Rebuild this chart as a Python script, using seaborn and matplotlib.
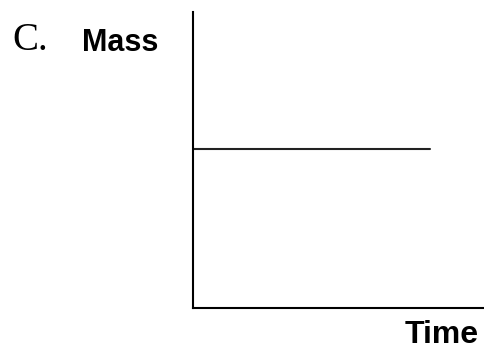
import seaborn as sns
import matplotlib.pyplot as plt

time = [0, 8.1]
mass = [5.37, 5.37]

sns.set_style("white")

fig = plt.figure(figsize=(4.85, 3.49), dpi=100)
ax = fig.add_axes([193 / 485, 41 / 349, 1 - 193 / 485, 296 / 349])

sns.lineplot(x=time, y=mass, ax=ax, color="#222222", linewidth=1.5)

ax.set_xlim(0, 10)
ax.set_ylim(0, 10)
ax.set_xticks([])
ax.set_yticks([])
sns.despine(ax=ax)
for side in ["left", "bottom"]:
    ax.spines[side].set_color("black")
    ax.spines[side].set_linewidth(1.5)

fig.text(12 / 485, 1 - 50 / 349, "C.", family="Liberation Serif", fontsize=28,
         color="black", ha="left", va="baseline")
fig.text(82 / 485, 1 - 51 / 349, "Mass", family="Liberation Sans", fontsize=22,
         fontweight="bold", color="black", ha="left", va="baseline")
fig.text(405 / 485, 1 - 343 / 349, "Time", family="Liberation Sans", fontsize=23,
         fontweight="bold", color="black", ha="left", va="baseline")

fig.savefig("out.png", dpi=100)
